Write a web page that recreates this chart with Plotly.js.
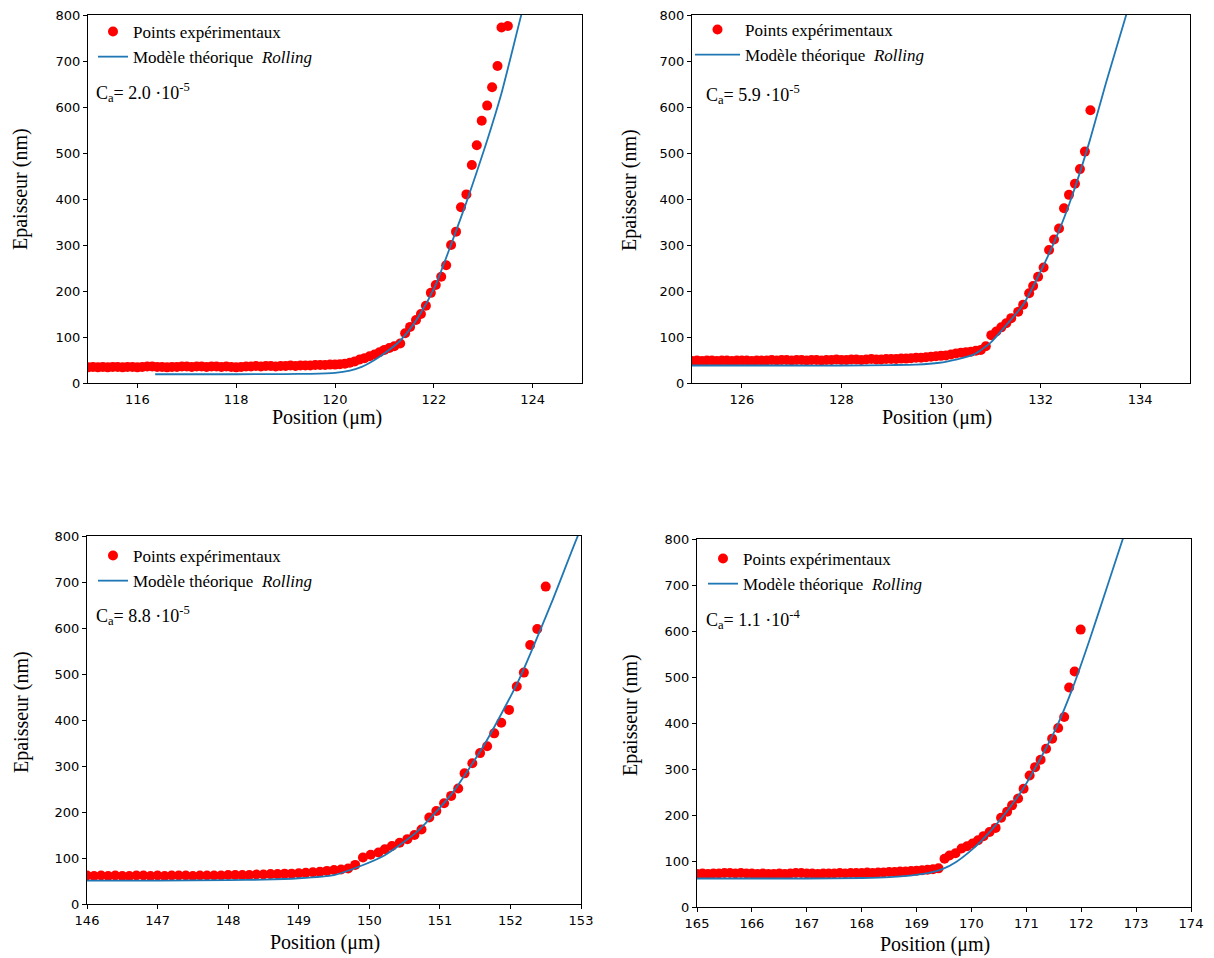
<!DOCTYPE html>
<html>
<head>
<meta charset="utf-8">
<script src="https://cdn.plot.ly/plotly-3.0.1.min.js"></script>
<style>html,body{margin:0;padding:0;background:#fff;}#chart{width:1214px;height:958px;}</style>
</head>
<body>
<div id="chart"></div>
<script>
// ---------- Data ----------
const p1ExpX = [115.0,115.1,115.2,115.3,115.4,115.5,115.6,115.7,115.8,115.9,116.0,116.1,116.2,116.3,116.4,116.5,116.6,116.7,116.8,116.9,117.0,117.1,117.2,117.3,117.4,117.5,117.6,117.7,117.8,117.9,118.0,118.1,118.2,118.3,118.4,118.5,118.6,118.7,118.8,118.9,119.0,119.1,119.2,119.3,119.4,119.5,119.6,119.7,119.8,119.9,120.0,120.1,120.2,120.3,120.4,120.5,120.6,120.7,120.8,120.9,121.0,121.1,121.2,121.32,121.42,121.52,121.64,121.74,121.84,121.94,122.04,122.15,122.25,122.35,122.45,122.55,122.66,122.77,122.87,122.97,123.08,123.18,123.29,123.37,123.50];
const p1ExpY = [34,35,34,35,34,35,35,34,35,35,34,35,36,36,35,35,34,35,35,36,36,35,36,36,35,36,36,35,36,35,34,35,36,36,37,36,37,37,36,37,37,38,37,38,38,38,39,39,39,40,40,41,42,44,47,51,54,58,62,67,72,76,80,86,108,122,137,150,168,196,213,231,256,300,329,382,410,474,517,570,603,643,689,773,776];
const p1ModX = [116.36,117,118,119,119.5,120,120.3,120.54,120.8,121.01,121.28,121.5,121.69,122.02,122.36,122.7,123.04,123.37,123.78,123.9];
const p1ModY = [19,19,19,19.5,20,22,27,35,50,65,88,115,144,209,304,405,514,630,804,850];

const p2ExpX = [125.0,125.1,125.2,125.3,125.4,125.5,125.6,125.7,125.8,125.9,126.0,126.1,126.2,126.3,126.4,126.5,126.6,126.7,126.8,126.9,127.0,127.1,127.2,127.3,127.4,127.5,127.6,127.7,127.8,127.9,128.0,128.1,128.2,128.3,128.4,128.5,128.6,128.7,128.8,128.9,129.0,129.1,129.2,129.3,129.4,129.5,129.6,129.7,129.8,129.9,130.0,130.1,130.2,130.3,130.4,130.5,130.6,130.7,130.8,130.9,131.01,131.11,131.21,131.31,131.41,131.55,131.65,131.77,131.85,131.95,132.06,132.17,132.27,132.37,132.47,132.57,132.69,132.79,132.89,133.00];
const p2ExpY = [48,49,48,49,49,48,49,49,48,49,49,49,48,49,49,49,50,49,50,50,49,50,50,49,50,50,49,50,50,51,50,50,51,51,50,51,52,51,51,52,52,52,53,53,54,55,55,56,57,58,59,60,62,64,66,67,68,70,72,80,104,112,121,130,141,155,170,195,211,231,251,289,312,336,380,409,433,465,503,593];
const p2ModX = [125,126,127,128,129,129.5,129.97,130.3,130.64,130.98,131.31,131.65,131.98,132.32,132.65,132.99,133.32,133.73,133.85];
const p2ModY = [38,38,38,38,39,40,44,51,61,86,126,170,238,318,412,528,655,804,850];

const p3ExpX = [146.0,146.1,146.2,146.3,146.4,146.5,146.6,146.7,146.8,146.9,147.0,147.1,147.2,147.3,147.4,147.5,147.6,147.7,147.8,147.9,148.0,148.1,148.2,148.3,148.4,148.5,148.6,148.7,148.8,148.9,149.0,149.1,149.2,149.3,149.4,149.5,149.6,149.7,149.8,149.91,150.02,150.13,150.22,150.32,150.43,150.54,150.64,150.74,150.85,150.95,151.06,151.16,151.26,151.35,151.46,151.57,151.67,151.77,151.87,151.98,152.09,152.19,152.28,152.38,152.50];
const p3ExpY = [62,61,62,61,62,61,61,62,62,61,62,61,62,62,62,61,62,62,62,62,63,63,63,63,64,64,65,65,66,66,67,68,69,70,72,74,75,77,85,101,107,112,119,126,133,141,150,162,188,202,219,235,251,284,306,328,343,371,394,422,473,503,563,598,690];
const p3ModX = [146,147,148,148.5,149,149.5,149.85,150.22,150.69,151.17,151.64,152.11,152.58,152.96,153.05];
const p3ModY = [51,51,52,53,56,63,81,106,159,240,349,484,654,802,830];

const p4ExpX = [165.0,165.1,165.2,165.3,165.4,165.5,165.6,165.7,165.8,165.9,166.0,166.1,166.2,166.3,166.4,166.5,166.6,166.7,166.8,166.9,167.0,167.1,167.2,167.3,167.4,167.5,167.6,167.7,167.8,167.9,168.0,168.1,168.2,168.3,168.4,168.5,168.6,168.7,168.8,168.9,169.0,169.1,169.2,169.3,169.4,169.51,169.60,169.71,169.82,169.92,170.02,170.12,170.22,170.33,170.44,170.54,170.65,170.74,170.85,170.95,171.06,171.16,171.26,171.36,171.47,171.58,171.69,171.78,171.88,171.99];
const p4ExpY = [72,73,72,73,73,74,74,73,74,73,73,72,73,72,72,73,72,73,74,74,73,73,72,73,73,73,74,73,74,74,74,75,74,75,75,76,76,77,77,78,79,80,81,82,84,105,112,117,127,132,138,145,154,163,172,194,207,221,236,257,286,304,320,344,366,389,413,477,512,603];
const p4ModX = [165,166,167,168,168.51,169.12,169.48,169.72,170.03,170.33,170.64,170.94,171.24,171.55,171.85,172.15,172.46,172.76,172.9];
const p4ModY = [62,62,62,63,65,72,83,98,127,163,207,257,319,391,478,580,692,801,850];

const caLabels = ['C<sub>a</sub>= 2.0 ·10<sup>-5</sup>', 'C<sub>a</sub>= 5.9 ·10<sup>-5</sup>', 'C<sub>a</sub>= 8.8 ·10<sup>-5</sup>', 'C<sub>a</sub>= 1.1 ·10<sup>-4</sup>'];
const xRanges = [[115,125],[125,135],[146,153],[165,174]];
const xDticks = [2,2,1,1];
const yRange = [0,800];
const xTitle = 'Position (μm)';
const yTitle = 'Epaisseur (nm)';
const expName = 'Points expérimentaux';
const modName = 'Modèle théorique  <i>Rolling</i>';

// ---------- Layout helpers ----------
const W = 1214, H = 958;
const px = v => v / W;
const py = v => 1 - v / H;
const serif = 'Liberation Serif';
const sans = 'DejaVu Sans';

// panel boxes in pixels: [left, right, top, bottom]
const boxes = [[88,582,15,383],[692,1190,15,383],[87,581,536,904],[697,1191,539,907]];
const legendPos = [[93,14],[690,12],[93,538],[703,541]];
const legendItemW = [30,45,30,30];
const annPos = [[94,92],[704,94],[94,615],[704,619]];
const xTitlePos = [[327,417],[937,417],[325,942],[935,944]];
const yTitlePos = [[21,189],[630,190],[21,712],[630,715]];

const expSets = [[p1ExpX,p1ExpY],[p2ExpX,p2ExpY],[p3ExpX,p3ExpY],[p4ExpX,p4ExpY]];
const modSets = [[p1ModX,p1ModY],[p2ModX,p2ModY],[p3ModX,p3ModY],[p4ModX,p4ModY]];

const traces = [];
const layout = {
  width: W, height: H,
  margin: {l:0, r:0, t:0, b:0},
  paper_bgcolor: '#fff', plot_bgcolor: '#fff',
  showlegend: true,
  annotations: []
};
const titleFont = {family: serif, size: 20, color: '#000'};

for (let i = 0; i < 4; i++) {
  const s = i === 0 ? '' : String(i + 1);
  const leg = i === 0 ? 'legend' : 'legend' + (i + 1);
  traces.push({
    x: expSets[i][0], y: expSets[i][1], type: 'scatter', mode: 'markers',
    name: expName, xaxis: 'x' + s, yaxis: 'y' + s, legend: leg,
    marker: {color: '#ff0000', size: 10}
  });
  traces.push({
    x: modSets[i][0], y: modSets[i][1], type: 'scatter', mode: 'lines',
    name: modName, xaxis: 'x' + s, yaxis: 'y' + s, legend: leg,
    line: {color: '#1f77b4', width: 1.8, shape: 'spline', smoothing: 0.6}
  });
  const b = boxes[i];
  const axCommon = {
    showline: true, mirror: true, linecolor: '#000', linewidth: 1,
    ticks: 'outside', ticklen: 4, tickwidth: 1, tickcolor: '#000',
    showgrid: false, zeroline: false,
    tickfont: {family: sans, size: 13, color: '#000'}
  };
  layout['xaxis' + s] = Object.assign({}, axCommon, {
    domain: [px(b[0]), px(b[1])], anchor: 'y' + s,
    range: xRanges[i], dtick: xDticks[i], tick0: 0
  });
  layout['yaxis' + s] = Object.assign({}, axCommon, {
    domain: [py(b[3]), py(b[2])], anchor: 'x' + s,
    range: yRange, dtick: 100
  });
  layout[leg] = {
    x: px(legendPos[i][0]), y: py(legendPos[i][1]), xanchor: 'left', yanchor: 'top',
    xref: 'paper', yref: 'paper',
    bgcolor: 'rgba(0,0,0,0)', borderwidth: 0,
    font: {family: serif, size: 17, color: '#000'},
    itemwidth: legendItemW[i],
    tracegroupgap: 0
  };
  layout.annotations.push({
    xref: 'paper', yref: 'paper', x: px(annPos[i][0]), y: py(annPos[i][1]),
    xanchor: 'left', yanchor: 'middle', showarrow: false,
    text: caLabels[i], font: {family: serif, size: 18, color: '#000'}
  });
  layout.annotations.push({
    xref: 'paper', yref: 'paper', x: px(xTitlePos[i][0]), y: py(xTitlePos[i][1]),
    xanchor: 'center', yanchor: 'middle', showarrow: false, borderpad: 0,
    text: xTitle, font: titleFont
  });
  layout.annotations.push({
    xref: 'paper', yref: 'paper', x: px(yTitlePos[i][0]), y: py(yTitlePos[i][1]),
    xanchor: 'center', yanchor: 'middle', showarrow: false, textangle: -90,
    text: yTitle, font: titleFont
  });
}

Plotly.newPlot('chart', traces, layout, {displayModeBar: false, staticPlot: true});
</script>
</body>
</html>
